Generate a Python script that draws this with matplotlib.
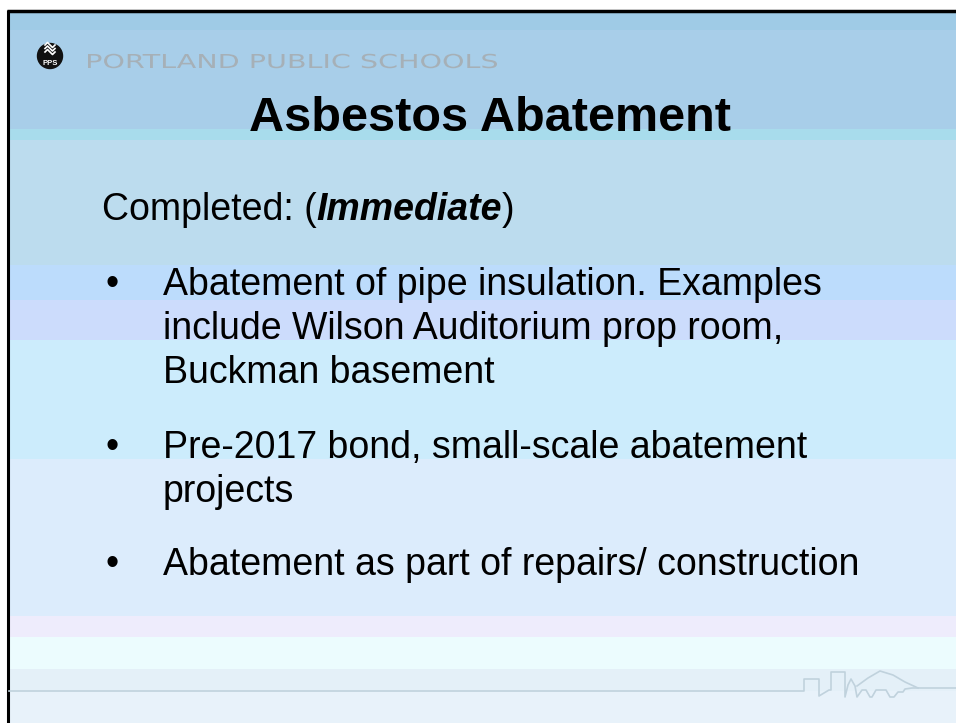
import matplotlib
matplotlib.use("Agg")
import matplotlib.pyplot as plt
from matplotlib.patches import Circle, PathPatch
from matplotlib.textpath import TextPath
from matplotlib.transforms import Affine2D
from matplotlib.font_manager import FontProperties

W, H = 956, 723

# background bands: (top, bottom, colour)
band_tops = [12, 30, 129, 140, 265, 300, 340, 459, 616, 637, 669, 691]
band_bottoms = [30, 129, 140, 265, 300, 340, 459, 616, 637, 669, 691, 723]
band_colors = ['#9fcbe6', '#a8cee9', '#a8dcec', '#bcdcee', '#bcdcfc', '#ccdcfc',
               '#ccecfc', '#dcecfc', '#eeecfc', '#ecfcfe', '#e4f0f8', '#e8f2fa']

header_text = "PORTLAND PUBLIC SCHOOLS"
title_text = "Asbestos Abatement"
intro_parts = [("Completed: (", "normal", "normal"),
               ("Immediate", "bold", "italic"),
               (")", "normal", "normal")]
bullets = [
    ["Abatement of pipe insulation. Examples",
     "include Wilson Auditorium prop room,",
     "Buckman basement"],
    ["Pre-2017 bond, small-scale abatement",
     "projects"],
    ["Abatement as part of repairs/ construction"],
]
bullet_baselines = [[295, 339, 383], [458, 502], [575]]

# footer skyline outline
sky_x = [9, 804, 804, 819, 819, 829, 831, 831, 845, 845, 848, 851, 855, 857,
         862, 866, 870, 872, 876, 880, 886, 890, 894, 898, 903, 905, 912, 918, 956]
sky_y = [691, 691, 679, 679, 696, 690, 690, 672, 672, 697, 685, 679, 686, 697,
         690, 690, 697, 697, 690, 690, 690, 697, 697, 692, 692, 689, 688, 688, 688]
mount_x = [857, 868, 880, 893, 905, 918]
mount_y = [686, 678, 671, 675, 682, 688]

fig = plt.figure(figsize=(W / 100, H / 100), dpi=100)
ax = fig.add_axes([0, 0, 1, 1])
ax.set_xlim(0, W)
ax.set_ylim(H, 0)
ax.axis('off')

for t, b, c in zip(band_tops, band_bottoms, band_colors):
    ax.fill_between([9, W], t, b, color=c, lw=0)

# frame
ax.plot([8, 8], [10, H], color='black', lw=2.2, solid_capstyle='butt')
ax.plot([7, W], [10.5, 10.5], color='black', lw=2.5, solid_capstyle='butt')

# footer line + skyline
ax.plot(sky_x, sky_y, color='#c0d2dd', lw=1.2)
ax.plot(mount_x, mount_y, color='#c0d2dd', lw=1.2)

# logo
ax.add_patch(Circle((50, 56), 12.5, color='#111111'))
for dy in (-7, -3.5, 0):
    ax.plot([45, 47.5, 50, 52.5, 55], [52 + dy, 49.5 + dy, 52 + dy, 54.5 + dy, 52 + dy],
            color='white', lw=1.2)
ax.text(50, 63.5, "PPS", color='white', fontsize=5.5, fontweight='bold',
        ha='center', va='center', family='Liberation Sans')

# header: wide lettering stretched to the reference box
tp = TextPath((0, 0), header_text, size=1,
              prop=FontProperties(family='DejaVu Sans', weight='normal'))
ext = tp.get_extents()
sx = 409 / ext.width
sy = 14 / 0.729
tr = Affine2D().scale(sx, -sy).translate(88 - ext.x0 * sx, 68)
ax.add_patch(PathPatch(tr.transform_path(tp), color='#a6b0b7', lw=0))

ax.text(490, 131, title_text, color='black', fontsize=35, fontweight='bold',
        family='Liberation Sans', va='baseline', ha='center')

fig.canvas.draw()
renderer = fig.canvas.get_renderer()
x = 102
for txt, wt, st in intro_parts:
    t = ax.text(x, 220, txt, fontsize=27, fontweight=wt, fontstyle=st,
                family='Liberation Sans', va='baseline', ha='left')
    bb = t.get_window_extent(renderer)
    x += bb.width

for lines, ys in zip(bullets, bullet_baselines):
    ax.text(106, ys[0], "\u2022", fontsize=27, family='Liberation Sans',
            va='baseline', ha='left')
    for line, y in zip(lines, ys):
        ax.text(163, y, line, fontsize=27, family='Liberation Sans',
                va='baseline', ha='left')

fig.savefig("out.png", dpi=100, facecolor='white')
